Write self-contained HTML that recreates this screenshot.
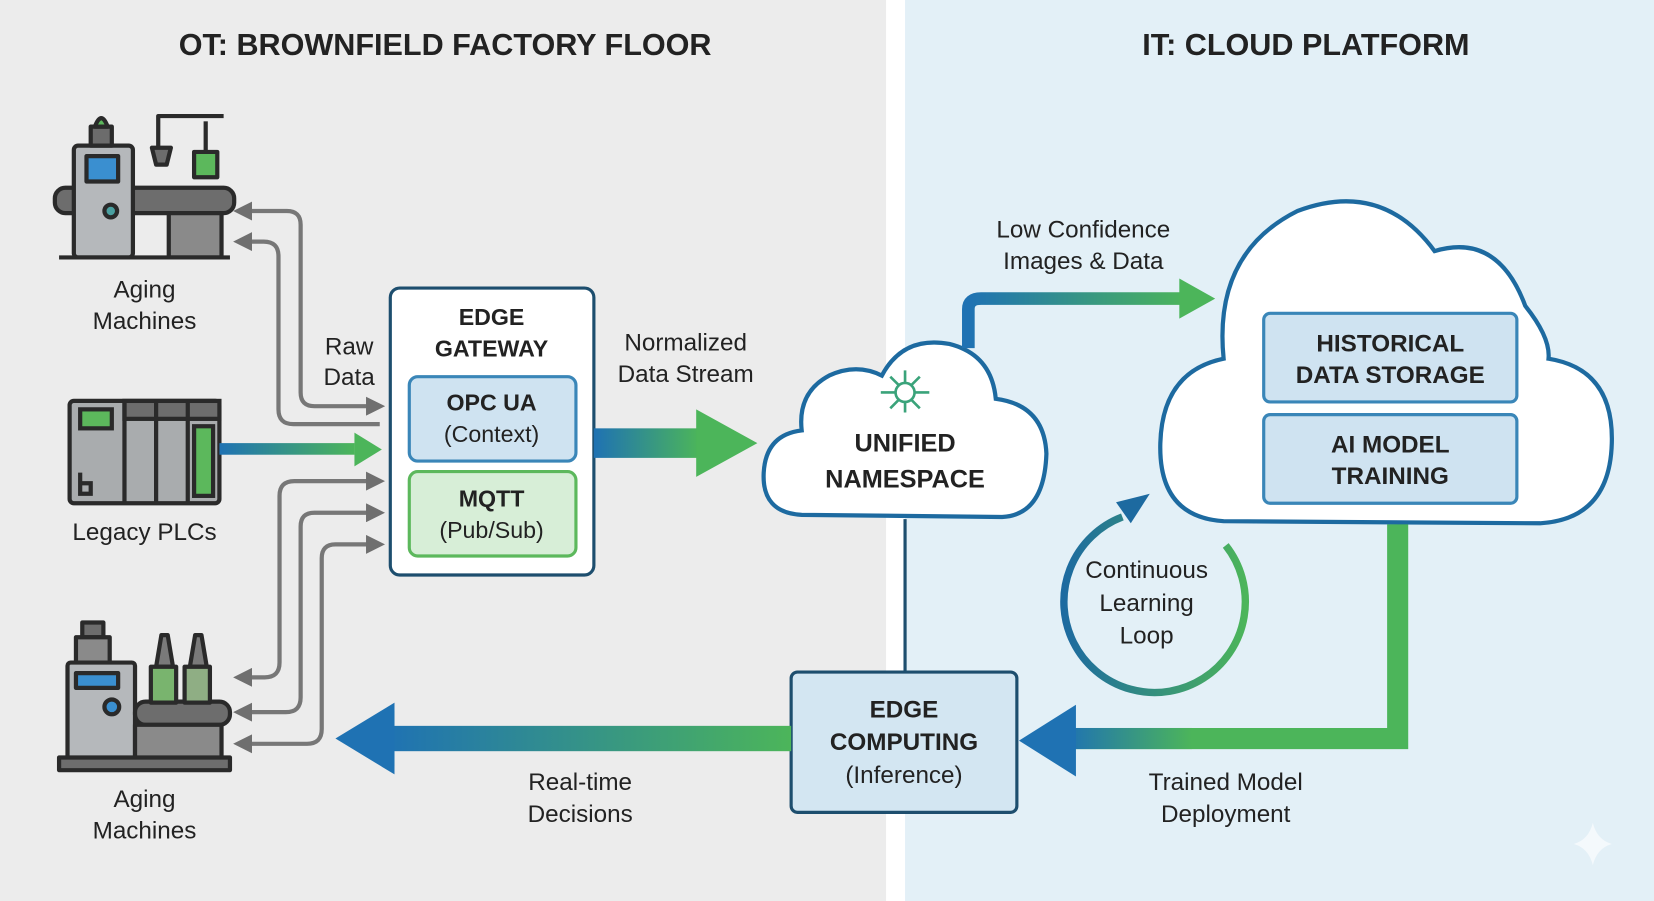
<!DOCTYPE html>
<html><head><meta charset="utf-8"><style>
html,body{margin:0;padding:0;background:#fff;}
svg{display:block;}
text{font-family:"Liberation Sans",sans-serif;fill:#222;}
.b{font-weight:bold;}
</style></head><body>
<svg width="1654" height="901" viewBox="0 0 1568 854" preserveAspectRatio="none" xmlns="http://www.w3.org/2000/svg">
<defs>
<linearGradient id="gbR" x1="0" x2="1" y1="0" y2="0"><stop offset="0" stop-color="#1f72b3"/><stop offset="1" stop-color="#4cb55a"/></linearGradient>
<linearGradient id="gbL" x1="0" x2="1" y1="0" y2="0"><stop offset="0" stop-color="#1f72b3"/><stop offset="1" stop-color="#4cb55a"/></linearGradient>
<linearGradient id="loop" x1="0" x2="1" y1="0" y2="0"><stop offset="0" stop-color="#1d6aa0"/><stop offset="1" stop-color="#4cb55a"/></linearGradient>
<marker id="ga" viewBox="0 0 10 10" refX="5" refY="5" markerWidth="4.5" markerHeight="4.5" orient="auto-start-reverse"><path d="M0,0 L10,5 L0,10 z" fill="#6f6f6f"/></marker>
</defs>
<rect x="0" y="0" width="1568" height="854" fill="#ffffff"/>
<rect x="0" y="0" width="840" height="854" fill="#ececec"/>
<rect x="858" y="0" width="710" height="854" fill="#e3f0f7"/>

<text x="422" y="52" text-anchor="middle" class="b" font-size="29">OT: BROWNFIELD FACTORY FLOOR</text>
<text x="1238" y="52" text-anchor="middle" class="b" font-size="29">IT: CLOUD PLATFORM</text>

<!-- machine 1 -->
<g stroke="#2a2a2a" stroke-width="4" stroke-linejoin="round">
<rect x="52" y="178" width="170" height="24" rx="10" fill="#6d6d6d"/>
<rect x="70" y="138" width="56" height="106" rx="4" fill="#b5b8bb"/>
<rect x="82" y="148" width="30" height="24" fill="#3a8fd0"/>
<rect x="86" y="120" width="20" height="18" fill="#6c6c6c"/>
<path d="M90,120 Q96,104 102,120 z" fill="#5cb85c"/>
<rect x="160" y="202" width="50" height="42" fill="#8a8a8a"/>
<circle cx="105" cy="200" r="6" fill="#4aa0a0"/>
<path d="M150,140 V110 H212" fill="none"/>
<path d="M144,140 h18 l-4,16 h-10 z" fill="#6c6c6c"/>
<rect x="184" y="144" width="22" height="24" fill="#5cb85c"/>
<line x1="195" y1="115" x2="195" y2="144"/>
<line x1="56" y1="244" x2="218" y2="244"/>
</g>
<text x="137" y="282" text-anchor="middle" font-size="23">Aging</text>
<text x="137" y="312" text-anchor="middle" font-size="23">Machines</text>

<!-- PLC -->
<g stroke="#2a2a2a" stroke-width="4">
<rect x="66" y="380" width="142" height="97" rx="4" fill="#a9acae"/>
<rect x="118" y="380" width="90" height="17" fill="#6d6d6d"/>
<line x1="118" y1="380" x2="118" y2="477"/><line x1="148" y1="380" x2="148" y2="477"/><line x1="178" y1="380" x2="178" y2="477"/>
<rect x="76" y="388" width="30" height="18" fill="#5cb85c"/>
<rect x="184" y="404" width="18" height="66" fill="#5cb85c"/>
<path d="M76,448 v20 h10 v-10 h-10"  fill="none"/>
</g>
<text x="137" y="512" text-anchor="middle" font-size="23">Legacy PLCs</text>

<!-- machine 2 -->
<g stroke="#2a2a2a" stroke-width="4" stroke-linejoin="round">
<rect x="78" y="590" width="20" height="14" fill="#6d6d6d"/>
<rect x="72" y="604" width="32" height="24" fill="#8a8a8a"/>
<rect x="64" y="628" width="64" height="92" rx="3" fill="#b5b8bb"/>
<rect x="72" y="638" width="40" height="14" fill="#3a8fd0"/>
<circle cx="106" cy="670" r="7" fill="#3a8fd0"/>
<rect x="128" y="665" width="90" height="22" rx="10" fill="#6d6d6d"/>
<rect x="128" y="687" width="82" height="33" fill="#8a8a8a"/>
<path d="M148,632 l5,-30 h6 l5,30 z" fill="#7a7a7a"/>
<rect x="143" y="632" width="24" height="34" fill="#79b46e"/>
<path d="M180,632 l5,-30 h6 l5,30 z" fill="#7a7a7a"/>
<rect x="175" y="632" width="24" height="34" fill="#8fae84"/>
<rect x="56" y="718" width="162" height="12" fill="#6d6d6d"/>
</g>
<text x="137" y="765" text-anchor="middle" font-size="23">Aging</text>
<text x="137" y="795" text-anchor="middle" font-size="23">Machines</text>

<!-- gray arrows -->
<g fill="none" stroke="#777" stroke-width="4">
<path d="M230,200 H272 Q285,200 285,213 V372 Q285,385 298,385 H356" marker-start="url(#ga)" marker-end="url(#ga)"/>
<path d="M230,229 H250 Q264,229 264,243 V388 Q264,402 278,402 H360"  marker-start="url(#ga)"/>
<path d="M356,456 H279 Q265,456 265,470 V628 Q265,642 251,642 H230" marker-start="url(#ga)" marker-end="url(#ga)"/>
<path d="M356,486 H298 Q285,486 285,499 V661 Q285,675 271,675 H230" marker-start="url(#ga)" marker-end="url(#ga)"/>
<path d="M356,516 H318 Q305,516 305,529 V691 Q305,705 291,705 H230" marker-start="url(#ga)" marker-end="url(#ga)"/>
</g>
<text x="331" y="336" text-anchor="middle" font-size="23">Raw</text>
<text x="331" y="365" text-anchor="middle" font-size="23">Data</text>

<!-- PLC arrow -->
<rect x="208" y="420" width="128" height="11" fill="url(#gbR)"/>
<path d="M336,410 L362,426 L336,442 z" fill="#4cb55a"/>

<!-- gateway -->
<rect x="370" y="273" width="193" height="272" rx="9" fill="#fff" stroke="#1d4e6e" stroke-width="3"/>
<text x="466" y="308" text-anchor="middle" class="b" font-size="22">EDGE</text>
<text x="466" y="338" text-anchor="middle" class="b" font-size="22">GATEWAY</text>
<rect x="388" y="357" width="158" height="80" rx="8" fill="#cfe3f1" stroke="#3a86b8" stroke-width="3"/>
<text x="466" y="389" text-anchor="middle" class="b" font-size="22">OPC UA</text>
<text x="466" y="419" text-anchor="middle" font-size="22">(Context)</text>
<rect x="388" y="447" width="158" height="80" rx="8" fill="#d7eed7" stroke="#5cb85c" stroke-width="3"/>
<text x="466" y="480" text-anchor="middle" class="b" font-size="22">MQTT</text>
<text x="466" y="510" text-anchor="middle" font-size="22">(Pub/Sub)</text>

<!-- normalized arrow -->
<rect x="563" y="406" width="100" height="28" fill="url(#gbR)"/>
<path d="M660,388 L718,420 L660,452 z" fill="#4cb55a"/>
<text x="650" y="332" text-anchor="middle" font-size="23">Normalized</text>
<text x="650" y="362" text-anchor="middle" font-size="23">Data Stream</text>

<!-- UNS cloud -->
<path d="M760,488 Q722,486 724,448 Q726,412 760,408 Q756,372 786,356 Q812,344 836,356 Q856,318 900,326 Q940,336 944,378 Q990,384 992,430 Q990,488 950,490 Z" fill="#fff" stroke="#1d6aa0" stroke-width="4"/>
<g stroke="#3aa37a" stroke-width="2.5" fill="none">
<circle cx="858" cy="372" r="9"/>
<path d="M858,363 v-12 M849,372 h-14 M867,372 h14 M852,365 l-8,-8 M864,365 l8,-8 M852,379 l-8,8 M864,379 l8,8 M858,381 v10"/>
</g>
<text x="858" y="428" text-anchor="middle" class="b" font-size="24">UNIFIED</text>
<text x="858" y="462" text-anchor="middle" class="b" font-size="24">NAMESPACE</text>

<!-- low confidence arrow -->
<path d="M918,330 V293 Q918,283 930,283 H1125" fill="none" stroke="url(#gbR)" stroke-width="12"/>
<path d="M1118,264 L1152,283 L1118,302 z" fill="#4cb55a"/>
<text x="1027" y="225" text-anchor="middle" font-size="23">Low Confidence</text>
<text x="1027" y="255" text-anchor="middle" font-size="23">Images &amp; Data</text>

<!-- big cloud -->
<path d="M1160,494 Q1098,490 1100,420 Q1102,352 1160,340 Q1150,240 1230,200 Q1310,170 1360,238 Q1420,220 1446,290 Q1470,320 1468,340 Q1530,350 1528,420 Q1526,492 1460,496 Z" fill="#fff" stroke="#1d6aa0" stroke-width="4"/>
<rect x="1198" y="297" width="240" height="84" rx="6" fill="#cfe3f1" stroke="#3a86b8" stroke-width="3"/>
<text x="1318" y="333" text-anchor="middle" class="b" font-size="23">HISTORICAL</text>
<text x="1318" y="363" text-anchor="middle" class="b" font-size="23">DATA STORAGE</text>
<rect x="1198" y="393" width="240" height="84" rx="6" fill="#cfe3f1" stroke="#3a86b8" stroke-width="3"/>
<text x="1318" y="429" text-anchor="middle" class="b" font-size="23">AI MODEL</text>
<text x="1318" y="459" text-anchor="middle" class="b" font-size="23">TRAINING</text>

<!-- connector UNS to edge computing -->
<line x1="858" y1="492" x2="858" y2="637" stroke="#1d4e6e" stroke-width="3"/>

<!-- trained model arrow -->
<path d="M1325,497 V700 H1015" fill="none" stroke="#4cb55a" stroke-width="20"/>
<rect x="1010" y="690" width="120" height="20" fill="url(#gbL)"/>
<path d="M1020,668 L966,702 L1020,736 z" fill="#1f72b3"/>
<text x="1162" y="749" text-anchor="middle" font-size="23">Trained Model</text>
<text x="1162" y="779" text-anchor="middle" font-size="23">Deployment</text>

<!-- edge computing -->
<rect x="750" y="637" width="214" height="133" rx="6" fill="#d3e6f2" stroke="#1d4e6e" stroke-width="3"/>
<text x="857" y="680" text-anchor="middle" class="b" font-size="23">EDGE</text>
<text x="857" y="711" text-anchor="middle" class="b" font-size="23">COMPUTING</text>
<text x="857" y="742" text-anchor="middle" font-size="23">(Inference)</text>

<!-- real-time arrow -->
<rect x="366" y="688" width="384" height="24" fill="url(#gbL)"/>
<path d="M374,666 L318,700 L374,734 z" fill="#1f72b3"/>
<text x="550" y="749" text-anchor="middle" font-size="23">Real-time</text>
<text x="550" y="779" text-anchor="middle" font-size="23">Decisions</text>

<!-- loop -->
<path d="M1162,517 A86,86 0 1 1 1064,490" fill="none" stroke="url(#loop)" stroke-width="7"/>
<path d="M1058,476 L1090,468 L1072,496 z" fill="#1d6aa0"/>
<text x="1087" y="548" text-anchor="middle" font-size="23">Continuous</text>
<text x="1087" y="579" text-anchor="middle" font-size="23">Learning</text>
<text x="1087" y="610" text-anchor="middle" font-size="23">Loop</text>

<path d="M1510,780 Q1514,796 1528,800 Q1514,804 1510,820 Q1506,804 1492,800 Q1506,796 1510,780 z" fill="#f4f9fc"/>
</svg>
</body></html>
